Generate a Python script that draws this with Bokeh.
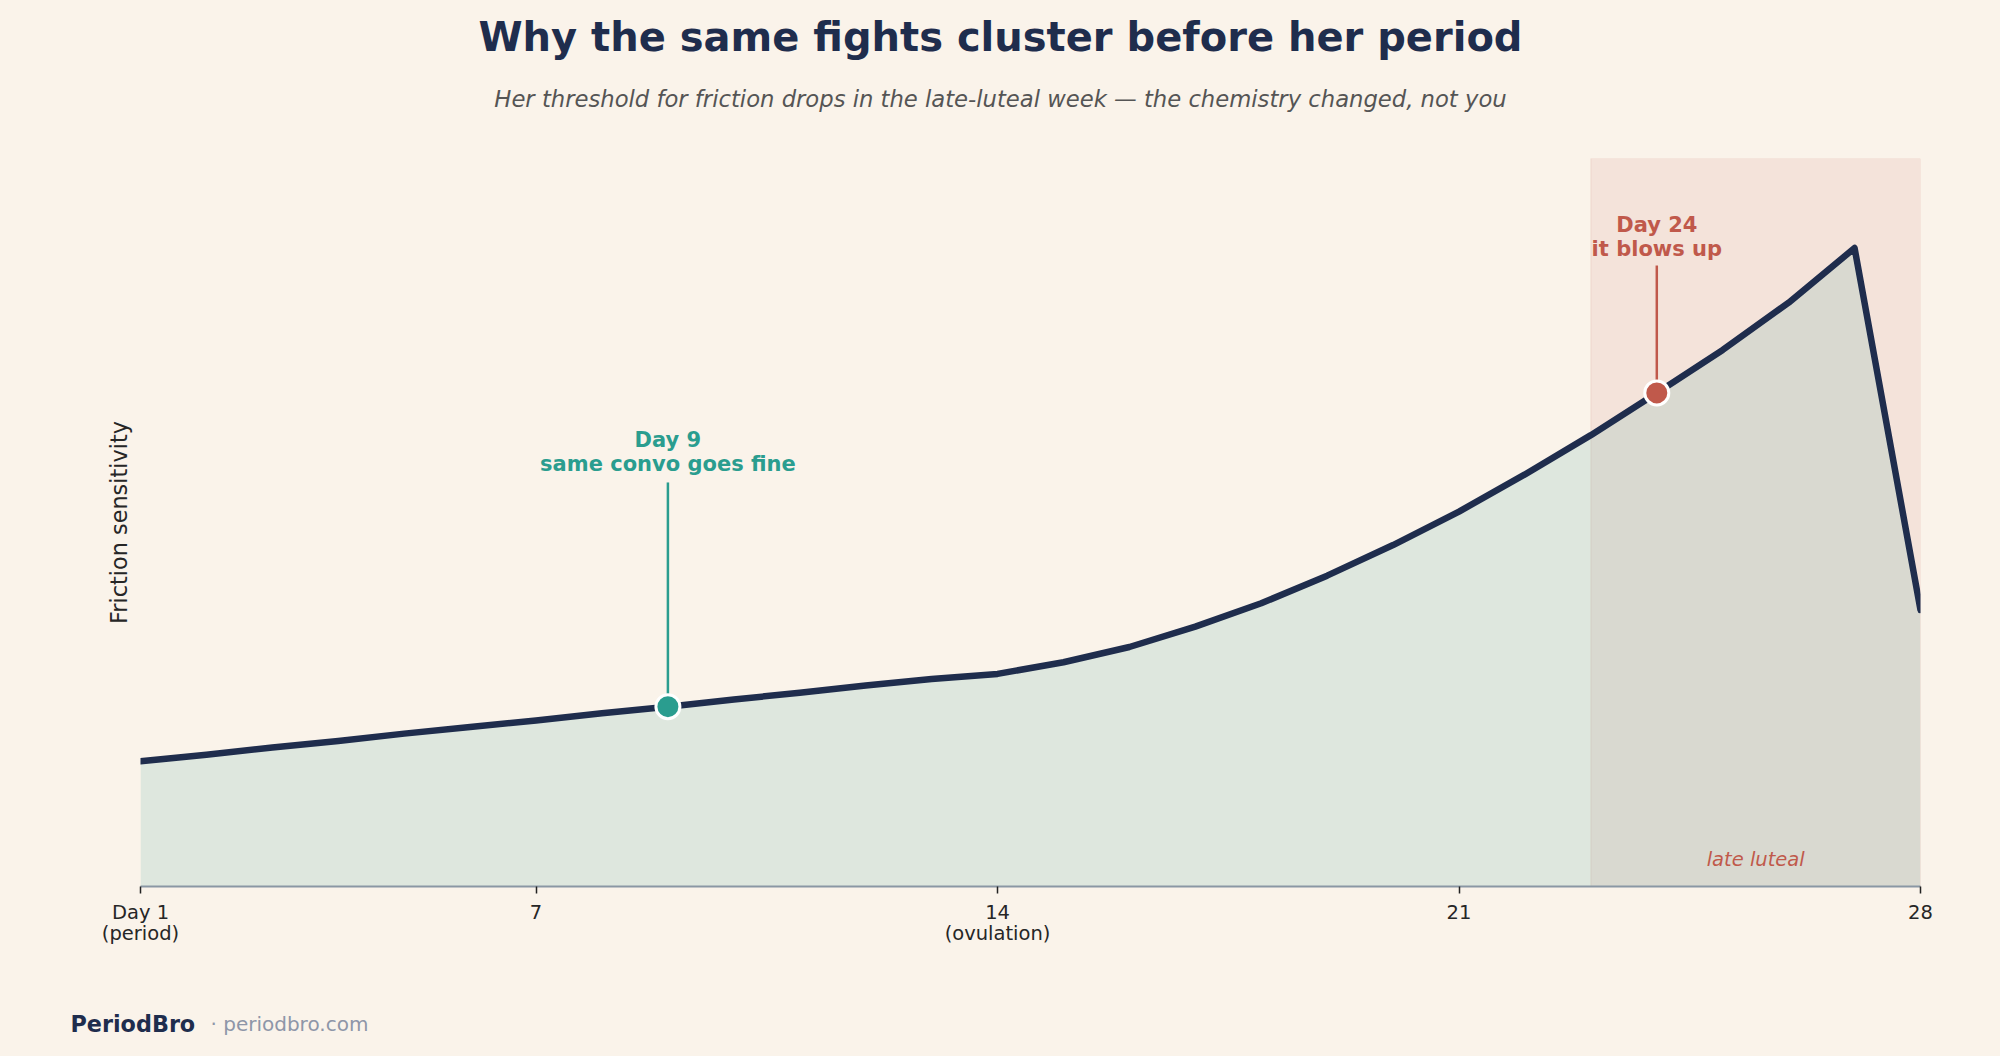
from bokeh.plotting import figure
from bokeh.layouts import column
from bokeh.models import Range1d, FixedTicker, Label, BoxAnnotation
from bokeh.embed import file_html
from bokeh.resources import INLINE

# ---- data ----
days = list(range(1, 29))
sensitivity = [1.72, 1.81, 1.91, 2.00, 2.10, 2.19, 2.28, 2.38, 2.47, 2.57,
               2.66, 2.76, 2.85, 2.92, 3.08, 3.29, 3.57, 3.89, 4.27, 4.69,
               5.15, 5.66, 6.20, 6.78, 7.37, 8.02, 8.77, 3.80]
tick_days = [1, 7, 14, 21, 28]
tick_labels = ["Day 1\n(period)", "7", "14\n(ovulation)", "21", "28"]
late_luteal = [23, 28]
good_day = 9
bad_day = 24

BG = "#FAF3EA"
NAVY = "#1F2D4D"
TEAL = "#2A9D8F"
RED = "#C0594B"
FONT = "DejaVu Sans"

W = 2000
HDR_H, MAIN_H, FOOT_H = 130, 836, 90


def bare(height, yspan):
    f = figure(width=W, height=height, output_backend="svg", toolbar_location=None,
               x_range=Range1d(0, W), y_range=Range1d(yspan, 0),
               x_axis_location=None, y_axis_location=None, min_border=0)
    f.background_fill_color = BG
    f.border_fill_color = BG
    f.outline_line_color = None
    f.grid.visible = False
    f.frame_align = False
    f.styles = {"background-color": BG}
    return f


def lab(fig, x, y, text, color, size, style="normal", align="center", baseline="middle"):
    fig.add_layout(Label(x=x, y=y, text=text, text_color=color, text_font=FONT,
                         text_font_size=size, text_font_style=style,
                         text_align=align, text_baseline=baseline))


# ---- header ----
hdr = bare(HDR_H, HDR_H)
lab(hdr, 1000, 36, "Why the same fights cluster before her period", NAVY, "40px", "bold")
lab(hdr, 1000, 98, "Her threshold for friction drops in the late-luteal week \u2014 the chemistry changed, not you",
    "#555555", "22.7px", "italic")

# ---- main chart ----
p = figure(width=W, height=MAIN_H, output_backend="svg", toolbar_location=None,
           x_range=Range1d(1, 28), y_range=Range1d(0, 10),
           min_border_left=140, min_border_right=80,
           min_border_top=28, min_border_bottom=80)
p.background_fill_color = BG
p.border_fill_color = BG
p.outline_line_color = None
p.grid.visible = False
p.frame_align = False
p.styles = {"background-color": BG}

ax = p.xaxis[0]
ax.ticker = FixedTicker(ticks=tick_days)
ax.major_label_overrides = {d: l for d, l in zip(tick_days, tick_labels)}
ax.axis_line_color = "#8A97A4"
ax.axis_line_width = 2
ax.major_tick_line_color = "#222222"
ax.major_tick_line_width = 1.5
ax.major_tick_out = 7
ax.major_tick_in = 0
ax.minor_tick_line_color = None
ax.major_label_text_font = FONT
ax.major_label_text_font_size = "19.5px"
ax.major_label_text_color = "#262626"
ax.major_label_text_line_height = 0.95
ax.major_label_standoff = 7

ay = p.yaxis[0]
ay.ticker = FixedTicker(ticks=[])
ay.axis_line_color = None
ay.major_tick_line_color = None
ay.minor_tick_line_color = None
ay.major_tick_out = 0
ay.major_label_text_font_size = "0px"
ay.axis_label = "Friction sensitivity"
ay.axis_label_text_font = FONT
ay.axis_label_text_font_style = "normal"
ay.axis_label_text_font_size = "22.4px"
ay.axis_label_text_color = "#262626"
ay.axis_label_standoff = 9

band = BoxAnnotation(left=late_luteal[0], right=late_luteal[1], fill_color=RED,
                     fill_alpha=0.1, line_color=RED, line_alpha=0.12, line_width=1,
                     level="underlay")
p.add_layout(band)

p.varea(x=days, y1=[0] * len(days), y2=sensitivity, fill_color=TEAL, fill_alpha=0.13)
p.line(days, sensitivity, line_color=NAVY, line_width=6.5, line_join="round", line_cap="round")

gy = sensitivity[days.index(good_day)]
by = sensitivity[days.index(bad_day)]

p.segment(x0=[good_day], y0=[5.55], x1=[good_day], y1=[gy], line_color=TEAL, line_width=2.5)
p.segment(x0=[bad_day], y0=[8.53], x1=[bad_day], y1=[by], line_color=RED, line_width=2.5)

p.scatter([good_day], [gy], size=24, fill_color=TEAL, line_color="white", line_width=3)
p.scatter([bad_day], [by], size=24, fill_color=RED, line_color="white", line_width=3)

lab(p, good_day, 6.13, "Day 9", TEAL, "21px", "bold")
lab(p, good_day, 5.80, "same convo goes fine", TEAL, "21px", "bold")
lab(p, bad_day, 9.09, "Day 24", RED, "21px", "bold")
lab(p, bad_day, 8.76, "it blows up", RED, "21px", "bold")
lab(p, 25.5, 0.37, "late luteal", RED, "19.5px", "italic")

# ---- footer ----
ftr = bare(FOOT_H, FOOT_H)
lab(ftr, 70, 57, "PeriodBro", NAVY, "22.3px", "bold", align="left")
lab(ftr, 210, 57, "\u00b7 periodbro.com", "#8E96A8", "20px", align="left")

layout = column(hdr, p, ftr, spacing=0)
layout.styles = {"background-color": BG}
html = file_html(layout, INLINE)
html = html.replace("<body>", '<body style="margin:0;background:%s;">' % BG, 1)
open("out.html", "w").write(html)
